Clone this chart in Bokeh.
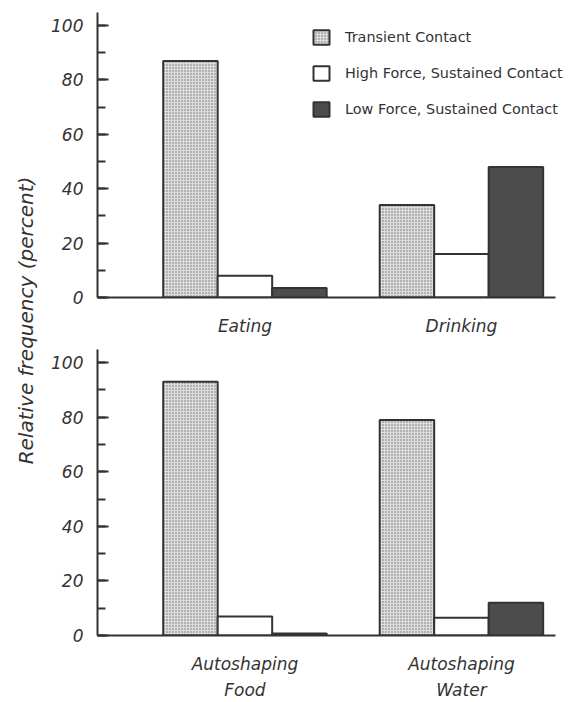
import math

from bokeh.embed import file_html
from bokeh.layouts import column, row
from bokeh.models import (FixedTicker, Label, Legend, LegendItem, Range1d,
                          SingleIntervalTicker)
from bokeh.plotting import figure
from bokeh.resources import INLINE

# Relative frequency (%) of each contact type, per condition
series_names = [
    "Transient Contact",
    "High Force, Sustained Contact",
    "Low Force, Sustained Contact",
]

top_categories = ["Eating", "Drinking"]
top_transient = [87, 34]
top_high_force = [8, 16]
top_low_force = [3.5, 48]

bottom_categories = ["Autoshaping\nFood", "Autoshaping\nWater"]
bottom_transient = [93, 79]
bottom_high_force = [7, 6.5]
bottom_low_force = [0.7, 12]

y_ticks_interval = 20

INK = "#333333"
FONT = "DejaVu Sans"
BAR_W = 0.2517
OFFSETS = [-BAR_W, 0.0, BAR_W]
X_START, X_AXIS_END, X_END = -0.681, 1.4345, 1.513

STYLES = [
    dict(fill_color="#dcdcdc", hatch_pattern="dot", hatch_scale=3,
         hatch_color="#707070", hatch_weight=1),
    dict(fill_color="white"),
    dict(fill_color="#4c4c4c"),
]


def make_panel(height, border_top, border_bottom, categories, series, legend):
    p = figure(width=527, height=height,
               x_range=Range1d(X_START, X_END), y_range=Range1d(0, 104.8),
               output_backend="svg", toolbar_location=None,
               min_border_left=52, min_border_right=0,
               min_border_top=border_top, min_border_bottom=border_bottom,
               outline_line_color=None, background_fill_color="white")
    p.xgrid.visible = False
    p.ygrid.visible = False

    renderers = []
    for values, offset, style in zip(series, OFFSETS, STYLES):
        xs = [i + offset for i in range(len(categories))]
        r = p.vbar(x=xs, top=values, bottom=0, width=BAR_W,
                   line_color=INK, line_width=2, **style)
        renderers.append(r)

    yax = p.yaxis[0]
    yax.ticker = SingleIntervalTicker(interval=y_ticks_interval, num_minor_ticks=2)
    yax.axis_line_color = INK
    yax.axis_line_width = 2
    yax.major_tick_in = 11
    yax.major_tick_out = 0
    yax.minor_tick_in = 8
    yax.minor_tick_out = 0
    yax.major_tick_line_color = INK
    yax.major_tick_line_width = 2
    yax.minor_tick_line_color = INK
    yax.minor_tick_line_width = 2
    yax.major_label_standoff = 14
    yax.major_label_text_font = FONT
    yax.major_label_text_font_style = "italic"
    yax.major_label_text_font_size = "17px"
    yax.major_label_text_color = INK

    xax = p.xaxis[0]
    xax.bounds = (X_START, X_AXIS_END)
    xax.ticker = FixedTicker(ticks=list(range(len(categories))))
    xax.major_label_overrides = {i: c for i, c in enumerate(categories)}
    xax.axis_line_color = INK
    xax.axis_line_width = 2
    xax.major_tick_in = 0
    xax.major_tick_out = 0
    xax.minor_tick_line_color = None
    xax.major_label_standoff = 18
    xax.major_label_text_font = FONT
    xax.major_label_text_font_style = "italic"
    xax.major_label_text_font_size = "17px"
    xax.major_label_text_color = INK
    xax.major_label_text_line_height = 1.3

    if legend:
        items = [LegendItem(label=name, renderers=[r])
                 for name, r in zip(series_names, renderers)]
        lg = Legend(items=items, location=(214, 179),
                    glyph_width=20, glyph_height=18, label_height=18,
                    label_standoff=14, spacing=18, padding=0, margin=0,
                    border_line_alpha=0, background_fill_alpha=0,
                    label_text_font=FONT, label_text_font_size="14.4px",
                    label_text_color=INK)
        p.add_layout(lg)
    return p


top = make_panel(345, 12, 48, top_categories,
                 [top_transient, top_high_force, top_low_force], True)
bottom = make_panel(357, 4, 67, bottom_categories,
                    [bottom_transient, bottom_high_force, bottom_low_force], False)

# Shared y-axis title in a narrow strip spanning both panels
side = figure(width=45, height=702, x_range=Range1d(0, 45), y_range=Range1d(0, 702),
              x_axis_type=None, y_axis_type=None, min_border=0,
              outline_line_color=None, toolbar_location=None, output_backend="svg")
side.add_layout(Label(x=25, y=382, text="Relative frequency (percent)",
                      angle=math.pi / 2, text_align="center", text_baseline="middle",
                      text_font=FONT, text_font_style="italic",
                      text_font_size="20px", text_color=INK))

layout = row(side, column(top, bottom))

open("out.html", "w").write(file_html(layout, INLINE))
